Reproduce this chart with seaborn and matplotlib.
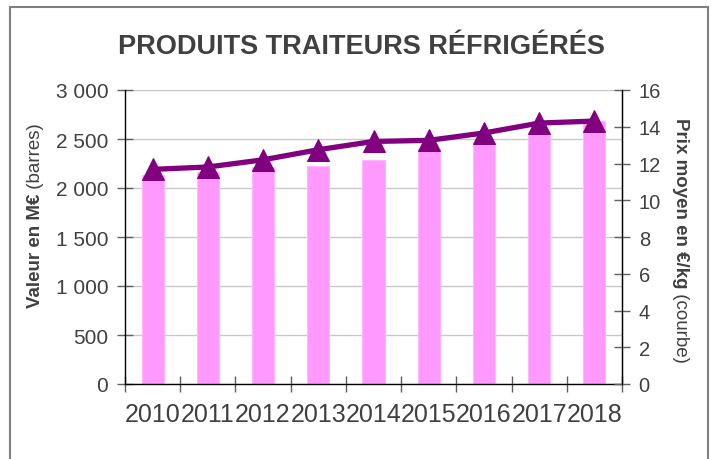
import matplotlib
matplotlib.use("Agg")
import matplotlib.pyplot as plt
import seaborn as sns
import pandas as pd
from matplotlib.patches import Rectangle
from matplotlib.ticker import FuncFormatter, MultipleLocator, FixedLocator

years = ["2010", "2011", "2012", "2013", "2014", "2015", "2016", "2017", "2018"]
valeur = [2130, 2160, 2210, 2220, 2285, 2400, 2460, 2560, 2685]
prix = [11.68, 11.81, 12.2, 12.75, 13.2, 13.26, 13.66, 14.2, 14.31]

sns.set_style("white")
plt.rcParams["font.family"] = ["Liberation Sans", "DejaVu Sans"]

df = pd.DataFrame({"annee": years, "valeur": valeur, "prix": prix})

W, H = 714, 460
fig = plt.figure(figsize=(W / 100, H / 100), dpi=100)
ax = fig.add_axes([125 / W, 75 / H, 497 / W, 294 / H])

txt = "#404040"

sns.barplot(data=df, x="annee", y="valeur", order=years, color="#FF99FF",
            width=0.4, edgecolor="#FFB8FF", linewidth=0.8, saturation=1, ax=ax, zorder=2)
ax.set_ylim(0, 3000)
ax.set_xlim(-0.5, 8.5)
ax.yaxis.set_major_locator(MultipleLocator(500))
ax.yaxis.set_major_formatter(FuncFormatter(lambda v, p: f"{int(v):,}".replace(",", " ")))
ax.grid(axis="y", color="#C8C8C8", linewidth=1, zorder=0)
ax.set_axisbelow(True)
ax.set_xlabel("")
ax.set_ylabel("")
ax.spines["top"].set_visible(False)
for s in ["left", "bottom", "right"]:
    ax.spines[s].set_color("black")
    ax.spines[s].set_linewidth(1)
ax.xaxis.set_major_locator(FixedLocator([x - 0.5 for x in range(10)]))
ax.set_xticklabels([])
ax.xaxis.set_minor_locator(FixedLocator(list(range(9))))
ax.xaxis.set_minor_formatter(FuncFormatter(lambda v, p: years[int(round(v))]))
ax.tick_params(axis="x", which="major", direction="inout", length=12, width=1, color="#606060", bottom=True)
ax.tick_params(axis="x", which="minor", length=0, pad=13, labelsize=18, labelcolor=txt)
ax.tick_params(axis="y", direction="inout", length=12, width=1, color="#606060", left=True,
               labelsize=15, labelcolor=txt, pad=6)

ax2 = ax.twinx()
sns.lineplot(x=list(range(len(years))), y=prix, color="#800080", linewidth=3.8, marker="^",
             markersize=16, markeredgecolor="#800080", ax=ax2, zorder=5)
ax2.set_ylim(0, 16)
ax2.set_xlim(-0.5, 8.5)
ax2.yaxis.set_major_locator(MultipleLocator(2))
ax2.tick_params(axis="y", direction="inout", length=12, width=1, color="#606060", right=True,
                labelsize=14.5, labelcolor=txt, pad=6)
for s in ["top", "left", "bottom"]:
    ax2.spines[s].set_visible(False)
ax2.spines["right"].set_color("black")
ax2.grid(False)

fig.text(361 / W, 1 - 47 / H, "PRODUITS TRAITEURS RÉFRIGÉRÉS", ha="center", va="center",
         fontsize=19.5, fontweight="bold", color=txt)

renderer = fig.canvas.get_renderer()
fs_lab = 13.5

# left y label: bold part starts at y=308 px from top and goes upward
t1 = fig.text(36 / W, 1 - 308 / H, "Valeur en M€", rotation=90, ha="center", va="bottom",
              fontsize=fs_lab, fontweight="bold", color=txt)
bb = t1.get_window_extent(renderer)
fig.text(36 / W, bb.y1 / H, " (barres)", rotation=90, ha="center", va="bottom",
         fontsize=fs_lab, color=txt)

# right y label reading downward, starting at y=118 px from top
t2 = fig.text(681 / W, 1 - 118 / H, "Prix moyen en €/kg", rotation=270, ha="center", va="top",
              fontsize=fs_lab, fontweight="bold", color=txt)
bb = t2.get_window_extent(renderer)
fig.text(681 / W, bb.y0 / H, " (courbe)", rotation=270, ha="center", va="top",
         fontsize=fs_lab, color=txt)

fig.patches.append(Rectangle((10 / W, -0.05), 698 / W, 1 - 8 / H + 0.05,
                             transform=fig.transFigure, fill=False, edgecolor="#7F7F7F",
                             linewidth=1.5))

fig.savefig("out.png", dpi=100)
